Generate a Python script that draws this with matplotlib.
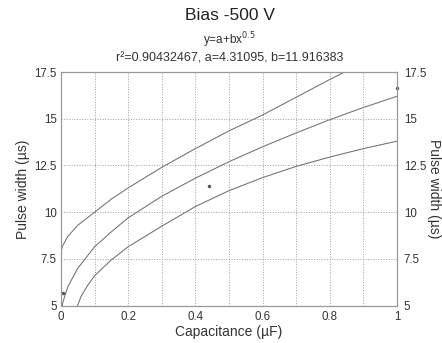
import matplotlib
matplotlib.use("Agg")
import matplotlib.pyplot as plt

plt.rcParams['font.family'] = ['Liberation Sans', 'DejaVu Sans']

# fitted curve y = a + b*x^0.5
fit_x = [0.0, 0.005, 0.02, 0.05, 0.1, 0.15, 0.2, 0.3, 0.4, 0.5, 0.6, 0.7, 0.8, 0.9, 1.0]
fit_y = [4.3, 5.15, 6.0, 7.0, 8.15, 8.95, 9.7, 10.85, 11.82, 12.7, 13.5, 14.24, 14.95, 15.6, 16.2]

# upper band
upper_x = [0.0, 0.005, 0.02, 0.05, 0.1, 0.15, 0.2, 0.3, 0.4, 0.5, 0.6, 0.7, 0.8, 0.85, 0.9]
upper_y = [7.9, 8.2, 8.7, 9.3, 10.0, 10.7, 11.3, 12.4, 13.4, 14.35, 15.2, 16.15, 17.1, 17.55, 18.0]

# lower band
lower_x = [0.045, 0.06, 0.08, 0.1, 0.15, 0.2, 0.3, 0.4, 0.5, 0.6, 0.7, 0.8, 0.9, 1.0]
lower_y = [4.8, 5.5, 6.1, 6.6, 7.45, 8.15, 9.25, 10.3, 11.15, 11.85, 12.45, 12.95, 13.4, 13.8]

# measured points
pts_x = [0.005, 0.44, 1.0]
pts_y = [5.7, 11.4, 16.65]

x_ticks = [0, 0.2, 0.4, 0.6, 0.8, 1]
x_labels = ['0', '0.2', '0.4', '0.6', '0.8', '1']
y_ticks = [5, 7.5, 10, 12.5, 15, 17.5]
y_labels = ['5', '7.5', '10', '12.5', '15', '17.5']

txt = '#333333'
fig = plt.figure(figsize=(4.42, 3.43), dpi=100)
ax = fig.add_axes([0.138, 0.109, 0.760, 0.681])

for xs, ys in [(fit_x, fit_y), (upper_x, upper_y), (lower_x, lower_y)]:
    ax.plot(xs, ys, color='#707070', linewidth=0.75)
ax.plot(pts_x, pts_y, linestyle='none', marker='o', markersize=1.5, color='#555555', clip_on=False)

ax.set_xlim(0, 1)
ax.set_ylim(5, 17.5)
ax.set_xticks(x_ticks)
ax.set_xticklabels(x_labels)
ax.set_xticks([0.1, 0.3, 0.5, 0.7, 0.9], minor=True)
ax.set_yticks(y_ticks)
ax.set_yticklabels(y_labels)
ax.grid(True, which='both', linestyle=':', color='#a0a0a0', linewidth=0.7)
ax.tick_params(which='both', length=0, labelsize=8.3, labelcolor=txt)
ax.tick_params(axis='y', pad=3)
ax.tick_params(axis='x', pad=4)
for s in ax.spines.values():
    s.set_color('#999999')
    s.set_linewidth(0.9)

ax2 = ax.twinx()
ax2.set_ylim(5, 17.5)
ax2.set_yticks(y_ticks)
ax2.set_yticklabels(y_labels)
ax2.tick_params(length=0, pad=5, labelsize=8.3, labelcolor=txt)
for s in ax2.spines.values():
    s.set_visible(False)

ax.set_xlabel('Capacitance (µF)', fontsize=10, color=txt, va='center')
ax.xaxis.set_label_coords(0.5, -0.113)
ax.set_ylabel('Pulse width (µs)', fontsize=10, color=txt, va='center')
ax.yaxis.set_label_coords(-0.113, 0.5)
ax2.set_ylabel('Pulse width (µs)', fontsize=10, color=txt, rotation=-90, va='center')
ax2.yaxis.set_label_coords(1.11, 0.5)

fig.text(0.52, 0.956, 'Bias -500 V', ha='center', va='center', fontsize=12.5, color='#222222')
fig.text(0.52, 0.882, r'y=a+bx$^{0.5}$', ha='center', va='center', fontsize=8.5, color=txt)
fig.text(0.52, 0.828, 'r²=0.90432467, a=4.31095, b=11.916383', ha='center', va='center', fontsize=9, color=txt)

fig.savefig('out.png', dpi=100)
